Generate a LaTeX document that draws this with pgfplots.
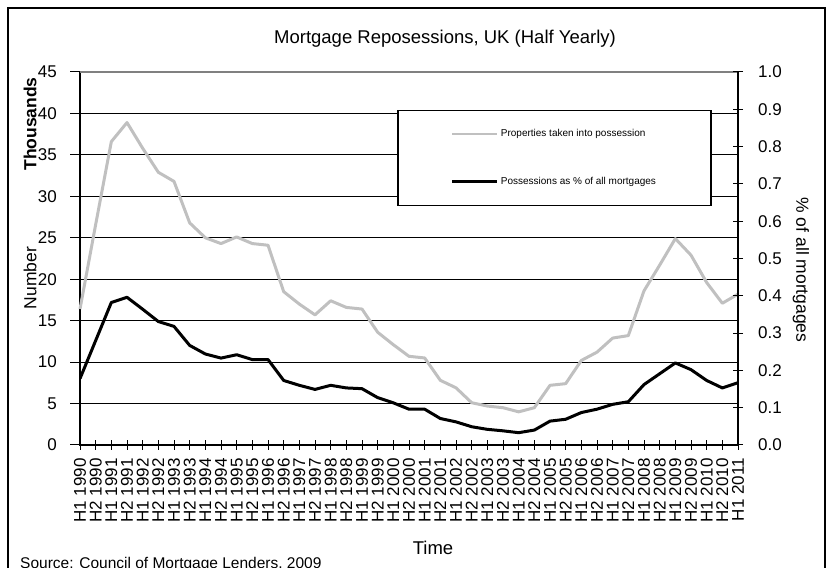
\documentclass[border=0pt]{standalone}
\usepackage{pgfplots}
\pgfplotsset{compat=1.18}
\usepackage{fontspec}
\setmainfont{Liberation Sans}
\definecolor{silverline}{RGB}{192,192,192}
\begin{document}
\begin{tikzpicture}[x=1pt,y=1pt]
\useasboundingbox (0,0) rectangle (829,567);
\draw[line width=1.3pt] (8,-20) rectangle (825,559);
\begin{axis}[
  at={(80pt,122pt)}, anchor=south west, scale only axis,
  width=658pt, height=373pt,
  xmin=0, xmax=42, ymin=0, ymax=45,
  ytick={0,5,...,45},
  xtick={0,...,42},
  xticklabels={H1 1990,H2 1990,H1 1991,H2 1991,H1 1992,H2 1992,H1 1993,H2 1993,H1 1994,H2 1994,H1 1995,H2 1995,H1 1996,H2 1996,H1 1997,H2 1997,H1 1998,H2 1998,H1 1999,H2 1999,H1 2000,H2 2000,H1 2001,H2 2001,H1 2002,H2 2002,H1 2003,H2 2003,H1 2004,H2 2004,H1 2005,H2 2005,H1 2006,H2 2006,H1 2007,H2 2007,H1 2008,H2 2008,H1 2009,H2 2009,H1 2010,H2 2010,H1 2011},
  xtick pos=bottom, ytick pos=left,
  xtick align=center, ytick align=outside,
  major tick length=10pt,
  ymajorgrids, grid style={black, line width=0.8pt},
  axis line style={black, line width=1.3pt},
  tick style={black, line width=1pt},
  /pgf/number format/assume math mode=true,
  ticklabel style={font=\fontsize{17}{17}\selectfont, inner sep=0pt},
  yticklabel style={anchor=east},
  yticklabel shift=13pt,
  xticklabel style={rotate=90, anchor=east},
  xticklabel shift=8pt,
  clip=false,
]
\addplot[silverline, line width=3pt, line join=round] coordinates {
(0,16.4) (1,26.6) (2,36.6) (3,38.9) (4,35.8) (5,32.9) (6,31.8) (7,26.8) (8,25.0) (9,24.3)
(10,25.1) (11,24.3) (12,24.1) (13,18.5) (14,17.0) (15,15.7) (16,17.4) (17,16.6) (18,16.4) (19,13.6)
(20,12.1) (21,10.7) (22,10.5) (23,7.8) (24,6.9) (25,5.1) (26,4.7) (27,4.5) (28,4.0) (29,4.5)
(30,7.2) (31,7.4) (32,10.2) (33,11.2) (34,12.9) (35,13.2) (36,18.6) (37,21.7) (38,24.9) (39,22.9)
(40,19.6) (41,17.1) (42,18.2)};
\draw[gray, line width=1.3pt] (rel axis cs:0,1) -- (rel axis cs:1,1);
\end{axis}
\begin{axis}[
  at={(80pt,122pt)}, anchor=south west, scale only axis,
  width=658pt, height=373pt,
  xmin=0, xmax=42, ymin=0, ymax=1,
  axis x line=none, axis y line*=right,
  ytick={0,0.1,...,1.0},
  ytick align=center, major tick length=10pt,
  axis line style={black, line width=1.3pt, -},
  tick style={black, line width=1pt},
  /pgf/number format/assume math mode=true,
  yticklabel style={font=\fontsize{17}{17}\selectfont, inner sep=0pt, anchor=west,
    /pgf/number format/.cd, fixed, fixed zerofill, precision=1},
  yticklabel shift=15pt,
  legend style={at={(axis cs:20.25,0.898)}, anchor=north west, draw=black, line width=1.3pt,
    fill=white, inner xsep=53pt, inner ysep=17pt, row sep=35pt,
    font=\fontsize{10}{10}\selectfont, cells={anchor=west},
    nodes={inner sep=2pt}},
  legend cell align=left,
  legend image code/.code={\draw[#1] (0pt,0pt) -- (45pt,0pt);},
]
\addlegendimage{silverline, line width=1.5pt}
\addlegendentry{Properties taken into possession}
\addplot[black, line width=3pt, line join=round] coordinates {
(0,0.178) (1,0.280) (2,0.382) (3,0.396) (4,0.364) (5,0.331) (6,0.318) (7,0.267) (8,0.244) (9,0.233)
(10,0.242) (11,0.229) (12,0.229) (13,0.173) (14,0.160) (15,0.149) (16,0.160) (17,0.153) (18,0.151) (19,0.127)
(20,0.113) (21,0.096) (22,0.096) (23,0.071) (24,0.062) (25,0.049) (26,0.042) (27,0.038) (28,0.033) (29,0.040)
(30,0.064) (31,0.069) (32,0.087) (33,0.096) (34,0.109) (35,0.116) (36,0.162) (37,0.191) (38,0.220) (39,0.202)
(40,0.173) (41,0.153) (42,0.167)};
\addlegendentry{Possessions as \% of all mortgages}
\end{axis}
\node[font=\fontsize{18.5}{18.5}\selectfont] at (445,528) {Mortgage Reposessions, UK (Half Yearly)};
\node[font=\fontsize{17.5}{17.5}\selectfont\bfseries, rotate=90] at (30,443) {Thousands};
\node[font=\fontsize{17.5}{17.5}\selectfont, rotate=90] at (30,289) {Number};
\node[font=\fontsize{17.5}{17.5}\selectfont, rotate=-90] at (801,297) {\% of all mortgages};
\node[font=\fontsize{18.5}{18.5}\selectfont] at (433,19) {Time};
\node[font=\fontsize{15.5}{15.5}\selectfont, anchor=base west, inner sep=0pt] at (20,-1.5) {Source: Council of Mortgage Lenders, 2009};
\end{tikzpicture}
\end{document}
